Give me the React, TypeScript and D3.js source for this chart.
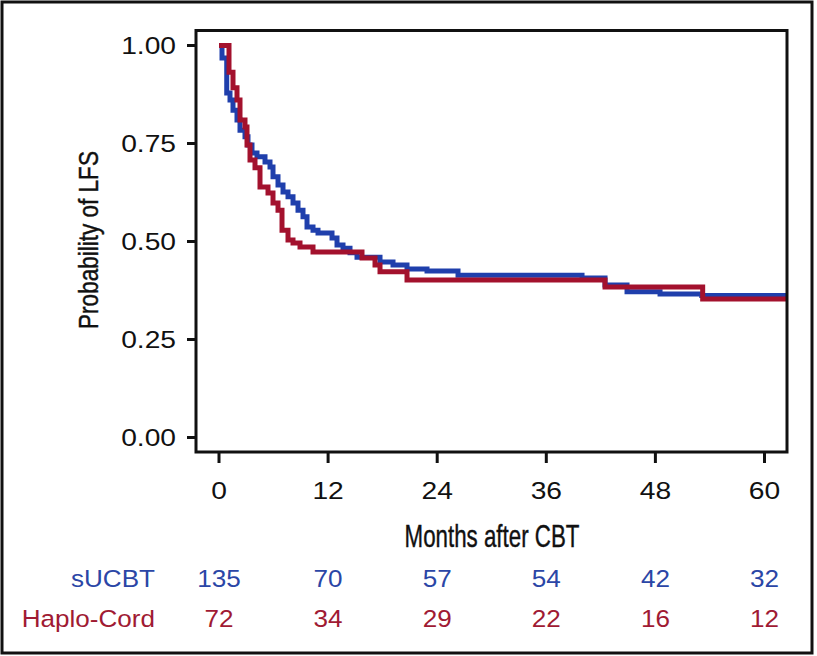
import React from "react";
import * as d3 from "d3";

const xTicks = [0, 12, 24, 36, 48, 60];
const yTicks = [0, 0.25, 0.5, 0.75, 1];
const yTickLabels = ["0.00", "0.25", "0.50", "0.75", "1.00"];

const seriesNames = ["sUCBT", "Haplo-Cord"];

const blueTimes = [0, 0.33, 0.85, 1.21, 1.54, 1.98, 2.31, 2.86, 3.19, 3.63, 4.18, 5.06, 5.61, 5.94, 6.49, 7.04, 7.59, 8.14, 8.69, 9.24, 9.68, 10.34, 10.89, 12.43, 12.98, 13.64, 14.41, 15.18, 17.71, 19.14, 20.68, 22.88, 26.29, 39.93, 42.46, 44.88, 48.51, 53.1];
const blueValues = [1, 0.968, 0.879, 0.861, 0.835, 0.81, 0.784, 0.767, 0.746, 0.726, 0.716, 0.703, 0.69, 0.665, 0.644, 0.626, 0.614, 0.598, 0.58, 0.563, 0.537, 0.529, 0.522, 0.509, 0.491, 0.483, 0.471, 0.46, 0.448, 0.44, 0.43, 0.425, 0.414, 0.407, 0.389, 0.372, 0.366, 0.362];

const redTimes = [0, 1.1, 1.54, 1.98, 2.31, 2.86, 3.08, 3.41, 3.96, 4.51, 5.39, 5.94, 6.49, 6.93, 7.59, 8.14, 8.91, 10.34, 15.73, 17.16, 17.71, 20.68, 42.46, 53.2];
const redValues = [1, 0.932, 0.892, 0.861, 0.81, 0.792, 0.746, 0.708, 0.688, 0.639, 0.624, 0.598, 0.58, 0.529, 0.504, 0.496, 0.486, 0.473, 0.458, 0.44, 0.423, 0.402, 0.384, 0.353];

const riskBlue = [135, 70, 57, 54, 42, 32];
const riskRed = [72, 34, 29, 22, 16, 12];

const W = 817;
const H = 656;
const frame = { left: 196, right: 787, top: 30.5, bottom: 452 };

const BLUE = "#1f3fac";
const RED = "#a3112d";
const BLUE_T = "#2b46a6";
const RED_T = "#a01a33";
const FONT = "'Liberation Sans', Arial, Helvetica, sans-serif";

export default function App() {
  const x = d3.scaleLinear().domain([0, 60]).range([219, 764.5]);
  const y = d3.scaleLinear().domain([0, 1]).range([437.5, 45.5]);
  const tEnd = x.invert(frame.right);

  const mk = (times: number[], vals: number[]) => {
    const pts: [number, number][] = times.map((t, i) => [t, vals[i]]);
    pts.push([tEnd, vals[vals.length - 1]]);
    return d3
      .line<[number, number]>()
      .x((d) => x(d[0]))
      .y((d) => y(d[1]))
      .curve(d3.curveStepAfter)(pts) as string;
  };

  const sx = 1.2;
  const rs = 1.1;

  return (
    <svg
      width={W}
      height={H}
      style={{ position: "absolute", left: 0, top: 0, background: "#fff" }}
      fontFamily={FONT}
    >
      <rect x={0} y={0} width={W} height={H} fill="#fff" />
      <rect x={2} y={2} width={810} height={651} fill="none" stroke="#111" strokeWidth={3} />
      <defs>
        <clipPath id="plotclip">
          <rect x={frame.left} y={frame.top} width={frame.right - frame.left} height={frame.bottom - frame.top} />
        </clipPath>
      </defs>
      <g clipPath="url(#plotclip)">
        <path d={mk(blueTimes, blueValues)} fill="none" stroke={BLUE} strokeWidth={5} />
        <path d={mk(redTimes, redValues)} fill="none" stroke={RED} strokeWidth={5} />
      </g>
      <rect
        x={frame.left}
        y={frame.top}
        width={frame.right - frame.left}
        height={frame.bottom - frame.top}
        fill="none"
        stroke="#111"
        strokeWidth={3}
      />
      {yTicks.map((v, i) => (
        <g key={"y" + i}>
          <line x1={187} x2={frame.left} y1={y(v)} y2={y(v)} stroke="#111" strokeWidth={3} />
          <g transform={`translate(176,${y(v) + 8.5}) scale(${sx},1)`}>
            <text textAnchor="end" fontSize={23.5} fill="#111">
              {yTickLabels[i]}
            </text>
          </g>
        </g>
      ))}
      {xTicks.map((v, i) => (
        <g key={"x" + i}>
          <line x1={x(v)} x2={x(v)} y1={frame.bottom} y2={463} stroke="#111" strokeWidth={3} />
          <g transform={`translate(${x(v)},499) scale(${sx},1)`}>
            <text textAnchor="middle" fontSize={23.5} fill="#111">
              {v}
            </text>
          </g>
        </g>
      ))}
      <g transform="translate(492,547) scale(0.72,1)">
        <text textAnchor="middle" fontSize={31} fill="#111" stroke="#111" strokeWidth={0.4}>
          Months after CBT
        </text>
      </g>
      <g transform="translate(98,240) rotate(-90) scale(0.82,1)">
        <text textAnchor="middle" fontSize={27.5} fill="#111" stroke="#111" strokeWidth={0.4}>
          Probability of LFS
        </text>
      </g>
      <g transform={`translate(155,587) scale(${rs},1)`}>
        <text textAnchor="end" fontSize={23.7} fill={BLUE_T}>
          {seriesNames[0]}
        </text>
      </g>
      <g transform={`translate(155,627) scale(${rs},1)`}>
        <text textAnchor="end" fontSize={23.7} fill={RED_T}>
          {seriesNames[1]}
        </text>
      </g>
      {riskBlue.map((n, i) => (
        <g key={"rb" + i} transform={`translate(${x(xTicks[i])},587) scale(${rs},1)`}>
          <text textAnchor="middle" fontSize={23.7} fill={BLUE_T}>
            {n}
          </text>
        </g>
      ))}
      {riskRed.map((n, i) => (
        <g key={"rr" + i} transform={`translate(${x(xTicks[i])},627) scale(${rs},1)`}>
          <text textAnchor="middle" fontSize={23.7} fill={RED_T}>
            {n}
          </text>
        </g>
      ))}
    </svg>
  );
}
